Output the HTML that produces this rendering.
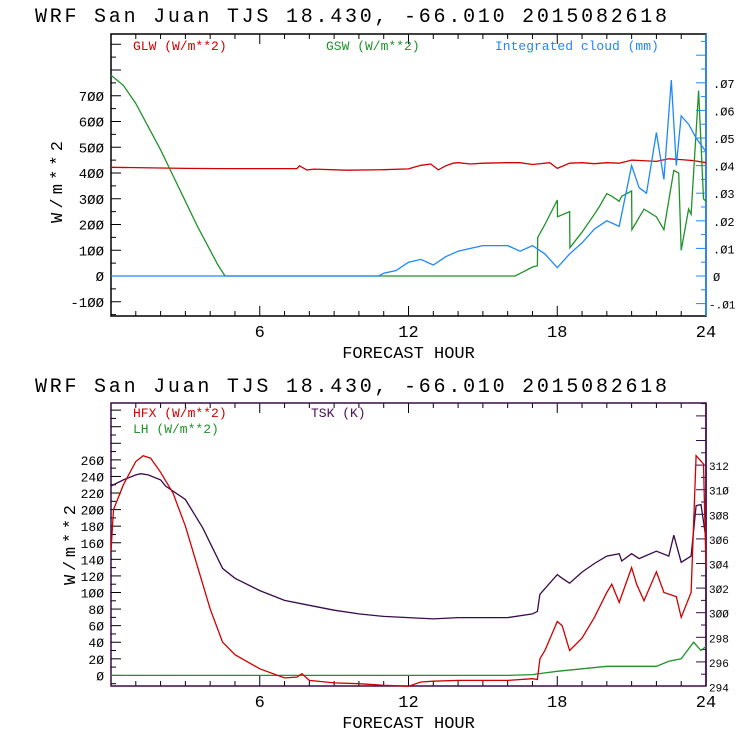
<!DOCTYPE html>
<html><head><meta charset="utf-8">
<style>
body{margin:0;background:#fff;width:740px;height:740px;overflow:hidden}
svg{display:block}
text{font-family:"Liberation Mono","DejaVu Sans Mono",monospace}
</style></head>
<body>
<svg id="chart" width="740" height="740">
<text x="35" y="22" font-size="20" textLength="632" lengthAdjust="spacing">WRF  San Juan TJS  18.430, -66.010  2015082618</text>
<text x="35" y="392" font-size="20" textLength="632" lengthAdjust="spacing">WRF  San Juan TJS  18.430, -66.010  2015082618</text>
<g id="top"></g>
<g id="bot"></g>
</svg>
<script>
// ---- data ----
const glwT=[0,3,4.5,7.5,7.6,7.9,8.2,9.5,11,12,12.5,12.9,13.2,13.5,13.8,14,14.5,15,16,16.5,17,17.7,18,18.5,19,19.5,20,20.5,21,22,22.5,23,23.5,24];
const glwV=[422,418,417,417,428,412,415,411,413,416,430,435,412,428,438,440,435,438,440,440,433,440,418,438,440,436,440,438,450,445,455,452,448,440];
const gswT=[0,0.5,1,1.5,2,2.5,3,3.5,4,4.3,4.6,16.3,16.5,17,17.2,17.21,17.5,18,18.01,18.5,18.51,19,19.5,19.7,20,20.2,20.5,20.6,21,21.01,21.5,22,22.3,22.7,22.9,23,23.3,23.4,23.7,23.9,24];
const gswV=[780,740,670,580,490,390,290,190,100,45,0,0,10,35,40,150,200,295,230,250,110,170,240,270,320,310,290,310,330,180,260,230,180,410,400,100,260,240,720,300,290];
const cldT=[0,10.8,11,11.5,12,12.5,13,13.5,14,14.5,15,16,16.5,17,17.5,18,18.5,19,19.5,20,20.5,21,21.3,21.6,22,22.3,22.6,22.8,23,23.3,23.6,24];
const cldV=[0,0,0.001,0.002,0.005,0.006,0.004,0.007,0.009,0.010,0.011,0.011,0.009,0.011,0.008,0.003,0.008,0.012,0.017,0.020,0.018,0.040,0.032,0.030,0.052,0.035,0.071,0.040,0.058,0.055,0.050,0.045];
const hfxT=[0,0.1,0.5,1,1.3,1.6,2,2.5,3,3.5,4,4.5,5,6,7,7.5,7.7,8,9,10,11,12,12.5,13,14,15,16,17,17.2,17.3,17.5,18,18.2,18.5,19,19.5,20,20.2,20.5,21,21.2,21.5,22,22.3,22.8,23,23.4,23.6,23.9,24];
const hfxV=[150,200,230,258,265,262,245,220,180,130,80,40,25,8,-3,-2,2,-6,-9,-10,-12,-13,-8,-7,-6,-6,-6,-4,-5,20,30,65,60,30,45,70,100,110,88,130,110,90,125,100,95,70,100,265,255,130];
const lhT=[0,16,17,17.5,18,19,20,21,22,22.5,23,23.5,23.8,24];
const lhV=[0,0,1,3,5,8,11,11,11,17,20,40,30,35];
const tskT=[0,0.5,1,1.2,1.5,2,2.2,3,3.7,4.5,5,6,7,8,9,10,11,12,13,14,15,16,17,17.2,17.3,18,18.2,18.5,19,19.5,20,20.5,20.6,21,21.3,22,22.5,22.7,23,23.4,23.6,23.8,24];
const tskV=[310.3,310.8,311.2,311.3,311.2,310.8,310.3,309.2,306.9,303.6,302.8,301.8,301,300.6,300.2,299.9,299.7,299.6,299.5,299.6,299.6,299.6,299.9,300.1,301.5,303.1,302.8,302.4,303.3,304,304.6,304.8,304.2,304.8,304.4,305,304.6,306.3,304.1,304.6,308.7,308.8,306];
const leftTopTicks=[-100,0,100,200,300,400,500,600,700];
const rightTopTicks=[-0.01,0,0.01,0.02,0.03,0.04,0.05,0.06,0.07];
const leftBotTicks=[0,20,40,60,80,100,120,140,160,180,200,220,240,260];
const rightBotTicks=[294,296,298,300,302,304,306,308,310,312];
const hourTicks=[6,12,18,24];
// ---- helpers ----
const NS="http://www.w3.org/2000/svg";
function mk(p,tag,at){const e=document.createElementNS(NS,tag);for(const k in at)e.setAttribute(k,at[k]);p.appendChild(e);return e;}
const X0=111,X1=706;
const xs=h=>X0+(X1-X0)*h/24;
function line(g,T,V,y,col,name){
  const el=mk(g,'polyline',{points:T.map((t,i)=>xs(t).toFixed(1)+','+y(V[i]).toFixed(1)).join(' '),fill:'none',stroke:col,'stroke-width':1.3});
  
  
}
function txt(g,x,y,s,col,anchor,size,name,fam){
  const t=mk(g,'text',{x:x,y:y,fill:col,'font-size':size||12,'text-anchor':anchor||'start'});
  if(fam)t.setAttribute('font-family',fam);
  t.textContent=s;
  
  
  return t;
}
function panel(g,top,bot,rcol,frameCol){
  for(let h=1;h<24;h++){
    const big=h%6==0;
    mk(g,'line',{x1:xs(h),x2:xs(h),y1:bot,y2:bot-(big?10:5),stroke:'#000'});
    mk(g,'line',{x1:xs(h),x2:xs(h),y1:top,y2:top+(big?10:5),stroke:'#000'});
  }
  hourTicks.forEach(h=>txt(g,xs(h),bot+21,String(h).replace(/0/g,'Ø'),'#000','middle',17,'x-tick-label'));
  txt(g,(X0+X1)/2,bot+42,'FORECAST HOUR','#000','middle',17,'x-axis-title');
  const r=mk(g,'rect',{x:X0,y:top,width:X1-X0,height:bot-top,fill:'none',stroke:frameCol,'stroke-width':1.5});
  
  
  mk(g,'line',{x1:X1,x2:X1,y1:top,y2:bot,stroke:rcol,'stroke-width':1.5});
}
const z=s=>s.replace(/0/g,'Ø');
// ---- top panel ----
(function(){
  const g=document.getElementById('top');const top=34,bot=316;
  const yL=v=>276-v*0.2575, yR=v=>276-v*2760;
  panel(g,top,bot,'#1e88ff','#000');
  for(let v=-150;v<=900;v+=50){const y=yL(v);if(y<top||y>bot)continue;mk(g,'line',{x1:X0,x2:X0+(v%100==0?10:5),y1:y,y2:y,stroke:'#000'});}
  leftTopTicks.forEach(v=>txt(g,104,yL(v)+5,z(String(v)),'#000','end',14,'y-tick-label'));
  for(let v=-0.015;v<=0.085;v+=0.005){const y=yR(v);if(y<top||y>bot)continue;const big=Math.abs(Math.round(v*1000)%10)==0;mk(g,'line',{x1:X1,x2:X1-(big?10:5),y1:y,y2:y,stroke:'#1e88ff'});}
  rightTopTicks.forEach(v=>txt(g,v<0?709:713,yR(v)+5,z(v==0?'0':(v<0?'-':'')+'.'+String(Math.round(Math.abs(v)*100)).padStart(2,'0')),'#000','start',v<0?11:12,'y2-tick-label'));
  const t=txt(g,0,0,'W/m**2','#000','middle',17,'y-axis-title');t.setAttribute('transform','translate(62,182) rotate(-90)');t.setAttribute('textLength','82');
  txt(g,133,50,'GLW (W/m**2)','#d00000','start',13,'legend-glw','"Liberation Serif",serif');
  txt(g,326,50,'GSW (W/m**2)','#20922a','start',13,'legend-gsw','"Liberation Serif",serif');
  txt(g,495,50,'Integrated cloud (mm)','#1e88ff','start',13,'legend-cloud','"Liberation Serif",serif');
  line(g,glwT,glwV,yL,'#d00000','glw-line');
  line(g,gswT,gswV,yL,'#20922a','gsw-line');
  line(g,cldT,cldV,yR,'#1e88ff','cloud-line');
})();
// ---- bottom panel ----
(function(){
  const g=document.getElementById('bot');const top=403,bot=686;
  const yL=v=>675.4-v*0.829, yR=v=>686.5-(v-294)*12.3;
  panel(g,top,bot,'#3a0a4a','#3a0a4a');
  for(let v=-10;v<=350;v+=10){const y=yL(v);if(y<top||y>bot)continue;mk(g,'line',{x1:X0,x2:X0+(v%20==0?10:5),y1:y,y2:y,stroke:'#000'});}
  leftBotTicks.forEach(v=>txt(g,104,yL(v)+5,z(String(v)),'#000','end',13,'y-tick-label'));
  for(let v=294;v<=317;v+=1){const y=yR(v);if(y<top||y>bot)continue;mk(g,'line',{x1:X1,x2:X1-(v%2==0?10:5),y1:y,y2:y,stroke:'#3a0a4a'});}
  rightBotTicks.forEach(v=>txt(g,709,yR(v)+5,z(String(v)),'#000','start',11,'y2-tick-label'));
  const t=txt(g,0,0,'W/m**2','#000','middle',17,'y-axis-title');t.setAttribute('transform','translate(75,545) rotate(-90)');t.setAttribute('textLength','80');
  txt(g,133,417,'HFX (W/m**2)','#d00000','start',13,'legend-hfx','"Liberation Serif",serif');
  txt(g,133,433,'LH  (W/m**2)','#20922a','start',13,'legend-lh','"Liberation Serif",serif');
  txt(g,311,417,'TSK (K)','#4a0a5a','start',13,'legend-tsk','"Liberation Serif",serif');
  line(g,lhT,lhV,yL,'#20922a','lh-line');
  line(g,tskT,tskV,yR,'#3a0a4a','tsk-line');
  line(g,hfxT,hfxV,yL,'#d00000','hfx-line');
})();
</script>
</body></html>
